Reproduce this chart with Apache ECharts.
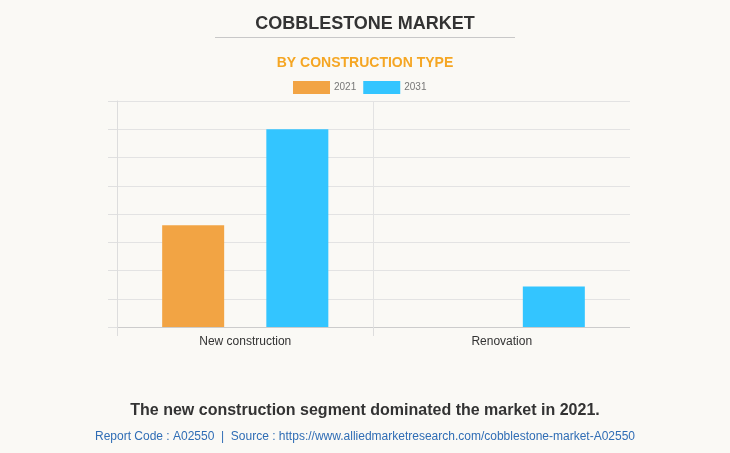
<!DOCTYPE html>
<html>
<head>
<meta charset="utf-8">
<script src="https://cdn.jsdelivr.net/npm/echarts@6/dist/echarts.min.js"></script>
<style>
html,body{margin:0;padding:0;background:#faf9f5;}
#c{width:730px;height:453px;}
</style>
</head>
<body>
<div id="c"></div>
<script>
const categories = ['New construction', 'Renovation'];
const seriesNames = ['2021', '2031'];
const values2021 = [3.6, 0];
const values2031 = [7.0, 1.43];
const yMax = 8;

const chart = echarts.init(document.getElementById('c'));
chart.setOption({
  backgroundColor: '#faf9f5',
  title: [
    {text: 'COBBLESTONE MARKET', left: 'center', top: 10,
     textStyle: {fontFamily: 'Arial, Liberation Sans', fontSize: 18, fontWeight: 'bold', color: '#333'}},
    {text: 'BY CONSTRUCTION TYPE', left: 'center', top: 51,
     textStyle: {fontFamily: 'Arial, Liberation Sans', fontSize: 14, fontWeight: 'bold', color: '#f5a623'}},
    {text: 'The new construction segment dominated the market in 2021.', left: 'center', top: 398,
     textStyle: {fontFamily: 'Arial, Liberation Sans', fontSize: 16, fontWeight: 'bold', color: '#333'}},
    {text: 'Report Code : A02550  |  Source : https://www.alliedmarketresearch.com/cobblestone-market-A02550', left: 'center', top: 426,
     textStyle: {fontFamily: 'Arial, Liberation Sans', fontSize: 12, fontWeight: 'normal', color: '#2f6db5'}}
  ],
  graphic: [
    {type: 'line', shape: {x1: 215, y1: 37.5, x2: 515, y2: 37.5}, style: {stroke: '#c8c8c8', lineWidth: 1}},
    {type: 'rect', z: 100, shape: {x: 630, y: 99, width: 4, height: 240}, style: {fill: '#faf9f5'}}
  ],
  legend: {
    top: 81, left: 293, padding: 0, itemWidth: 37, itemHeight: 13, itemGap: 7, icon: 'rect',
    textStyle: {fontFamily: 'Arial, Liberation Sans', fontSize: 10, color: '#777', padding: [0, 0, 0, -1]},
    data: seriesNames
  },
  grid: {left: 117, right: 100, top: 101, bottom: 126},
  xAxis: {
    type: 'category', data: categories,
    axisLine: {lineStyle: {color: '#ccc'}},
    axisTick: {show: true, length: 9, lineStyle: {color: '#ddd'}},
    splitLine: {show: true, lineStyle: {color: '#e3e3e3'}},
    axisLabel: {fontFamily: 'Arial, Liberation Sans', fontSize: 12, color: '#333', margin: 9}
  },
  yAxis: {
    type: 'value', min: 0, max: yMax, interval: 1,
    axisLine: {show: true, lineStyle: {color: '#ddd'}},
    axisTick: {show: true, length: 9, lineStyle: {color: '#e0e0e0'}},
    axisLabel: {show: false},
    splitLine: {lineStyle: {color: '#e3e3e3'}}
  },
  series: [
    {name: seriesNames[0], type: 'bar', data: values2021, barWidth: 62, barGap: '68%',
     itemStyle: {color: '#f2a444'}},
    {name: seriesNames[1], type: 'bar', data: values2031, barWidth: 62,
     itemStyle: {color: '#33c5ff'}}
  ]
});
</script>
</body>
</html>
